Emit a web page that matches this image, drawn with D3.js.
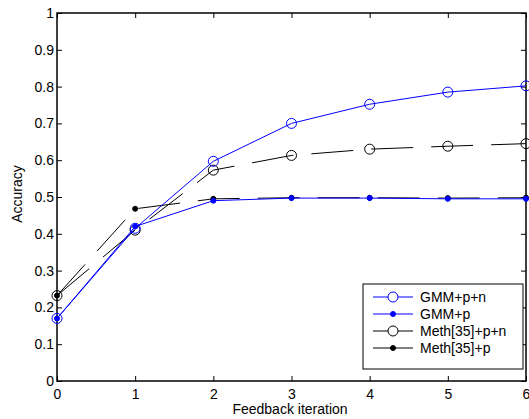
<!DOCTYPE html>
<html>
<head>
<meta charset="utf-8">
<script src="https://cdnjs.cloudflare.com/ajax/libs/d3/7.8.5/d3.min.js"></script>
<style>
body { margin:0; background:#fff; }
text { font-family: "Liberation Sans", Arial, sans-serif; }
</style>
</head>
<body>
<div class="chart"></div>
<script>
var svgWidth = 529;
var svgHeight = 419;

// data
var iterations = [0, 1, 2, 3, 4, 5, 6];
var gmmPN  = [0.17, 0.415, 0.597, 0.700, 0.752, 0.785, 0.802];
var gmmP   = [0.17, 0.420, 0.490, 0.497, 0.497, 0.495, 0.495];
var methPN = [0.232, 0.410, 0.573, 0.613, 0.630, 0.638, 0.645];
var methP  = [0.232, 0.468, 0.495, 0.498, 0.498, 0.497, 0.498];
var yTicks = [0, 0.1, 0.2, 0.3, 0.4, 0.5, 0.6, 0.7, 0.8, 0.9, 1];
var seriesNames = ["GMM+p+n", "GMM+p", "Meth[35]+p+n", "Meth[35]+p"];

var chartMargin = { top: 13, right: 2, bottom: 38, left: 57 };
var width = svgWidth - chartMargin.left - chartMargin.right;
var height = svgHeight - chartMargin.top - chartMargin.bottom;
var fontSize = 14;

var svg = d3.select(".chart")
  .append("svg")
  .attr("width", svgWidth)
  .attr("height", svgHeight)
  .append("g")
  .attr("transform", "translate(" + chartMargin.left + "," + chartMargin.top + ")");

var x = d3.scaleLinear().domain([0, 6]).range([0, width - 1]);
var y = d3.scaleLinear().domain([0, 1]).range([height, 0]);

// axes with inward ticks (box style)
var fmt = function(d) { return String(+d.toFixed(1)); };
svg.append("g")
  .attr("transform", "translate(0," + height + ")")
  .call(d3.axisBottom(x).tickValues(iterations).tickFormat(fmt).tickSizeInner(-5).tickSizeOuter(0).tickPadding(8))
  .call(function(g) { g.select(".domain").remove(); });
svg.append("g")
  .call(d3.axisLeft(y).tickValues(yTicks).tickFormat(fmt).tickSizeInner(-5).tickSizeOuter(0).tickPadding(3))
  .call(function(g) { g.select(".domain").remove(); });
svg.append("g")
  .call(d3.axisTop(x).tickValues(iterations).tickSizeInner(-5).tickSizeOuter(0).tickFormat(""))
  .call(function(g) { g.select(".domain").remove(); });
svg.append("g")
  .attr("transform", "translate(" + (width - 1) + ",0)")
  .call(d3.axisRight(y).tickValues(yTicks).tickSizeInner(-5).tickSizeOuter(0).tickFormat(""))
  .call(function(g) { g.select(".domain").remove(); });

svg.selectAll("g.tick").attr("font-size", fontSize);
svg.selectAll(".tick text").style("font-size", fontSize + "px").attr("fill", "#000")
  .style("font-family", "Liberation Sans, Arial, sans-serif");
svg.selectAll(".tick line").attr("stroke", "#000");

svg.append("rect")
  .attr("x", 0).attr("y", 0)
  .attr("width", width - 1).attr("height", height)
  .attr("fill", "none").attr("stroke", "#000").attr("stroke-width", 1.5);

var series = [
  { name: seriesNames[0], values: gmmPN,  color: "#0000ff", dash: null,    open: true },
  { name: seriesNames[1], values: gmmP,   color: "#0000ff", dash: null,    open: false },
  { name: seriesNames[2], values: methPN, color: "#000000", dash: "42,18", open: true },
  { name: seriesNames[3], values: methP,  color: "#000000", dash: "42,18", open: false }
];

var line = d3.line()
  .x(function(d, i) { return x(iterations[i]); })
  .y(function(d) { return y(d); });

// draw black series first so blue sits on top
[2, 3, 0, 1].forEach(function(k) {
  var s = series[k];
  svg.append("path")
    .datum(s.values)
    .attr("d", line)
    .attr("fill", "none")
    .attr("stroke", s.color)
    .attr("stroke-width", 1)
    .attr("stroke-dasharray", s.dash);
  svg.append("g").selectAll("circle")
    .data(s.values)
    .enter()
    .append("circle")
    .attr("cx", function(d, i) { return x(iterations[i]); })
    .attr("cy", function(d) { return y(d); })
    .attr("r", s.open ? 5 : 2.5)
    .attr("fill", s.open ? "none" : s.color)
    .attr("stroke", s.color)
    .attr("stroke-width", 1);
});

// legend
var lg = svg.append("g").attr("transform", "translate(" + (363 - chartMargin.left) + "," + (284 - chartMargin.top) + ")");
lg.append("rect")
  .attr("width", 160).attr("height", 85)
  .attr("fill", "#fff").attr("stroke", "#000").attr("stroke-width", 1);
series.forEach(function(s, i) {
  var yy = 13 + i * 17;
  lg.append("line")
    .attr("x1", 10).attr("x2", 50).attr("y1", yy).attr("y2", yy)
    .attr("stroke", s.color).attr("stroke-width", 1);
  lg.append("circle")
    .attr("cx", 30).attr("cy", yy)
    .attr("r", s.open ? 5 : 2.5)
    .attr("fill", s.open ? "#fff" : s.color)
    .attr("stroke", s.color);
  lg.append("text")
    .attr("x", 57).attr("y", yy).attr("dy", "0.35em")
    .attr("font-size", 14)
    .text(s.name);
});

// axis labels
svg.append("text")
  .attr("transform", "rotate(-90)")
  .attr("x", -(height / 2) + 3)
  .attr("y", 17 - chartMargin.left)
  .attr("dy", "0.35em")
  .attr("text-anchor", "middle")
  .attr("font-size", 14)
  .text("Accuracy");

svg.append("text")
  .attr("x", 290 - chartMargin.left)
  .attr("y", height + 33)
  .attr("text-anchor", "middle")
  .attr("font-size", 14)
  .text("Feedback iteration");
</script>
</body>
</html>
